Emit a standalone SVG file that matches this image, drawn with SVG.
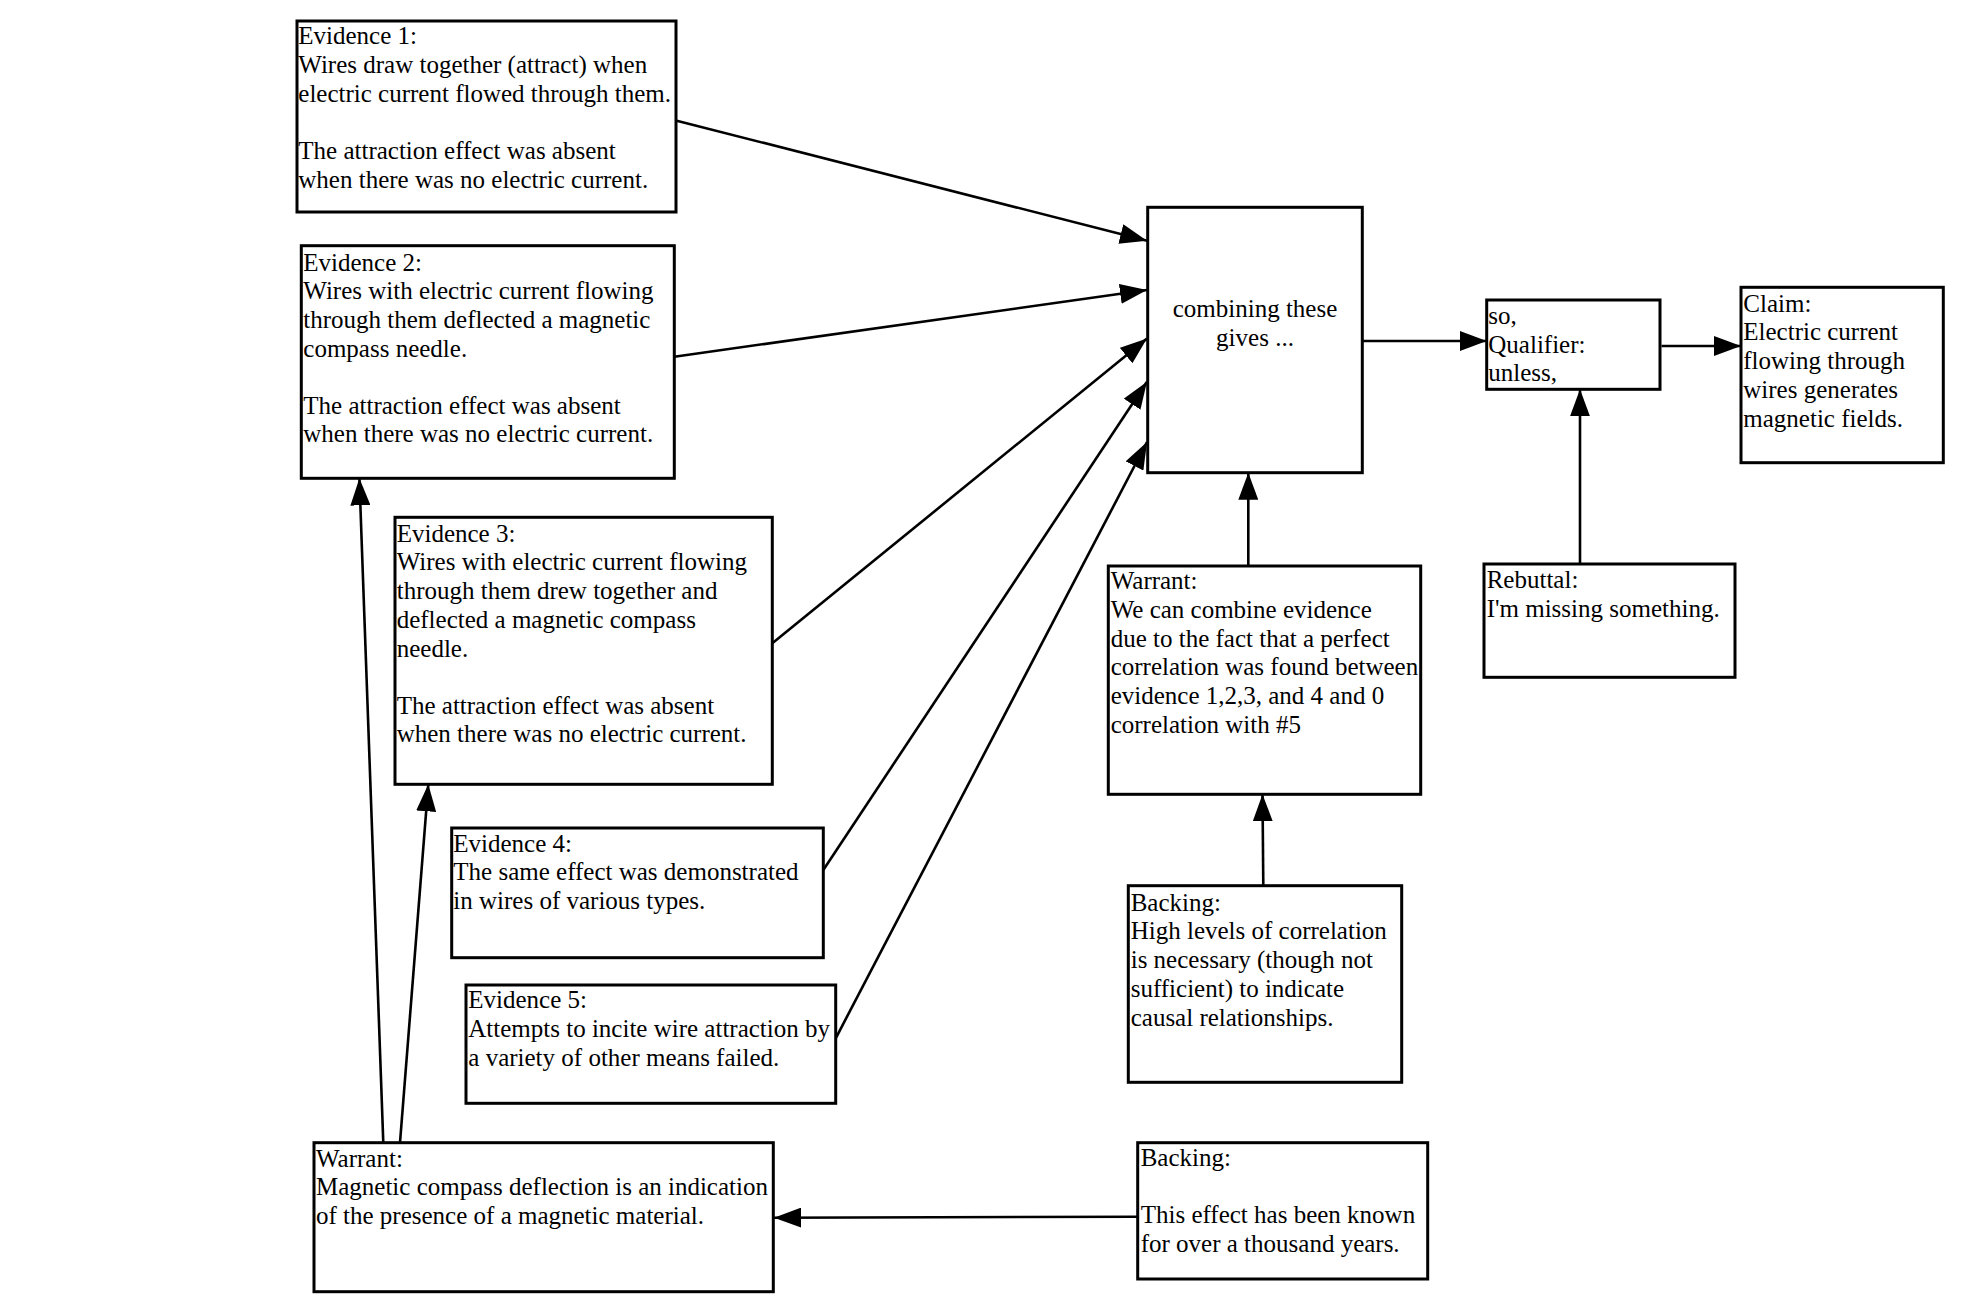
<svg xmlns="http://www.w3.org/2000/svg" width="1970" height="1311" viewBox="0 0 1970 1311">
<style>
.box{fill:#fff;stroke:#000;stroke-width:3}
.t{font-family:"Liberation Serif","Times New Roman",serif;font-size:25px;fill:#000}
.c{text-anchor:middle}
.conn line{stroke:#000;stroke-width:2.6;fill:none;marker-end:url(#ah)}
</style>
<defs>
<marker id="ah" markerWidth="28" markerHeight="20" refX="27" refY="10" orient="auto" markerUnits="userSpaceOnUse">
<path d="M0,0 L27,10 L0,20 z" fill="#000"/>
</marker>
</defs>
<rect width="1970" height="1311" fill="#fff"/>
<g class="conn" id="connectors">
<line x1="676.7" y1="120.7" x2="1147" y2="240.7"/>
<line x1="674.3" y1="356.7" x2="1147" y2="290"/>
<line x1="772.3" y1="643.3" x2="1147" y2="338.5"/>
<line x1="823.3" y1="870" x2="1147" y2="381.7"/>
<line x1="835.7" y1="1038.3" x2="1147" y2="442"/>
<line x1="1362.3" y1="341" x2="1486.7" y2="341"/>
<line x1="1661.5" y1="346" x2="1741" y2="346"/>
<line x1="1248.3" y1="566" x2="1248.3" y2="472.7"/>
<line x1="1580" y1="564" x2="1580" y2="389.3"/>
<line x1="1263.3" y1="885.7" x2="1262.5" y2="794.3"/>
<line x1="1137.7" y1="1216.7" x2="774" y2="1217.7"/>
<line x1="383.3" y1="1142.7" x2="359.4" y2="478.3"/>
<line x1="400" y1="1142.7" x2="428.3" y2="784.3"/>
</g>
<g id="evidence1">
<rect class="box" x="297" y="21" width="379" height="191"/>
<text class="t"><tspan x="298.3" y="44.3">Evidence 1:</tspan><tspan x="298.3" y="73">Wires draw together (attract) when</tspan><tspan x="298.3" y="101.7">electric current flowed through them.</tspan><tspan x="298.3" y="159.1">The attraction effect was absent</tspan><tspan x="298.3" y="187.8">when there was no electric current.</tspan></text>
</g>
<g id="evidence2">
<rect class="box" x="301.3" y="245.7" width="373" height="232.6"/>
<text class="t"><tspan x="303.3" y="270.7">Evidence 2:</tspan><tspan x="303.3" y="299.3">Wires with electric current flowing</tspan><tspan x="303.3" y="328">through them deflected a magnetic</tspan><tspan x="303.3" y="356.6">compass needle.</tspan><tspan x="303.3" y="413.8">The attraction effect was absent</tspan><tspan x="303.3" y="442.4">when there was no electric current.</tspan></text>
</g>
<g id="evidence3">
<rect class="box" x="395" y="517.3" width="377.3" height="267"/>
<text class="t"><tspan x="396.7" y="541.7">Evidence 3:</tspan><tspan x="396.7" y="570.4">Wires with electric current flowing</tspan><tspan x="396.7" y="599.1">through them drew together and</tspan><tspan x="396.7" y="627.8">deflected a magnetic compass</tspan><tspan x="396.7" y="656.5">needle.</tspan><tspan x="396.7" y="713.5">The attraction effect was absent</tspan><tspan x="396.7" y="742.2">when there was no electric current.</tspan></text>
</g>
<g id="evidence4">
<rect class="box" x="451.7" y="828" width="371.6" height="129.7"/>
<text class="t"><tspan x="453.3" y="851.7">Evidence 4:</tspan><tspan x="453.3" y="880.4">The same effect was demonstrated</tspan><tspan x="453.3" y="909.1">in wires of various types.</tspan></text>
</g>
<g id="evidence5">
<rect class="box" x="466" y="985" width="369.7" height="118.3"/>
<text class="t"><tspan x="468.3" y="1008.3">Evidence 5:</tspan><tspan x="468.3" y="1037">Attempts to incite wire attraction by</tspan><tspan x="468.3" y="1065.7">a variety of other means failed.</tspan></text>
</g>
<g id="warrant1">
<rect class="box" x="314" y="1142.7" width="459.3" height="149"/>
<text class="t"><tspan x="316" y="1166.7">Warrant:</tspan><tspan x="316" y="1195.2">Magnetic compass deflection is an indication</tspan><tspan x="316" y="1223.7">of the presence of a magnetic material.</tspan></text>
</g>
<g id="backing2">
<rect class="box" x="1137.7" y="1142.7" width="290" height="136.3"/>
<text class="t"><tspan x="1140.7" y="1166">Backing:</tspan><tspan x="1140.7" y="1223.3">This effect has been known</tspan><tspan x="1140.7" y="1251.8">for over a thousand years.</tspan></text>
</g>
<g id="combine">
<rect class="box" x="1147.7" y="207.3" width="214.6" height="265.4"/>
<text class="t c"><tspan x="1255" y="316.7">combining these</tspan><tspan x="1255" y="345.5">gives ...</tspan></text>
</g>
<g id="qualifier">
<rect class="box" x="1486.7" y="300" width="173.3" height="89.3"/>
<text class="t"><tspan x="1488.3" y="323.8">so,</tspan><tspan x="1488.3" y="352.5">Qualifier:</tspan><tspan x="1488.3" y="381.2">unless,</tspan></text>
</g>
<g id="claim">
<rect class="box" x="1741" y="287.3" width="202.3" height="175.4"/>
<text class="t"><tspan x="1743.3" y="311.7">Claim:</tspan><tspan x="1743.3" y="340.4">Electric current</tspan><tspan x="1743.3" y="369.1">flowing through</tspan><tspan x="1743.3" y="397.8">wires generates</tspan><tspan x="1743.3" y="426.5">magnetic fields.</tspan></text>
</g>
<g id="rebuttal">
<rect class="box" x="1484" y="564" width="251" height="113.3"/>
<text class="t"><tspan x="1486.7" y="588.3">Rebuttal:</tspan><tspan x="1486.7" y="617.4">I'm missing something.</tspan></text>
</g>
<g id="warrant2">
<rect class="box" x="1108.3" y="566" width="312.4" height="228.3"/>
<text class="t"><tspan x="1110.7" y="589.3">Warrant:</tspan><tspan x="1110.7" y="618">We can combine evidence</tspan><tspan x="1110.7" y="646.7">due to the fact that a perfect</tspan><tspan x="1110.7" y="675.4">correlation was found between</tspan><tspan x="1110.7" y="704.1">evidence 1,2,3, and 4 and 0</tspan><tspan x="1110.7" y="732.8">correlation with #5</tspan></text>
</g>
<g id="backing1">
<rect class="box" x="1128.3" y="885.7" width="273.4" height="196.6"/>
<text class="t"><tspan x="1130.7" y="910.7">Backing:</tspan><tspan x="1130.7" y="939.4">High levels of correlation</tspan><tspan x="1130.7" y="968.1">is necessary (though not</tspan><tspan x="1130.7" y="996.8">sufficient) to indicate</tspan><tspan x="1130.7" y="1025.5">causal relationships.</tspan></text>
</g>
</svg>
